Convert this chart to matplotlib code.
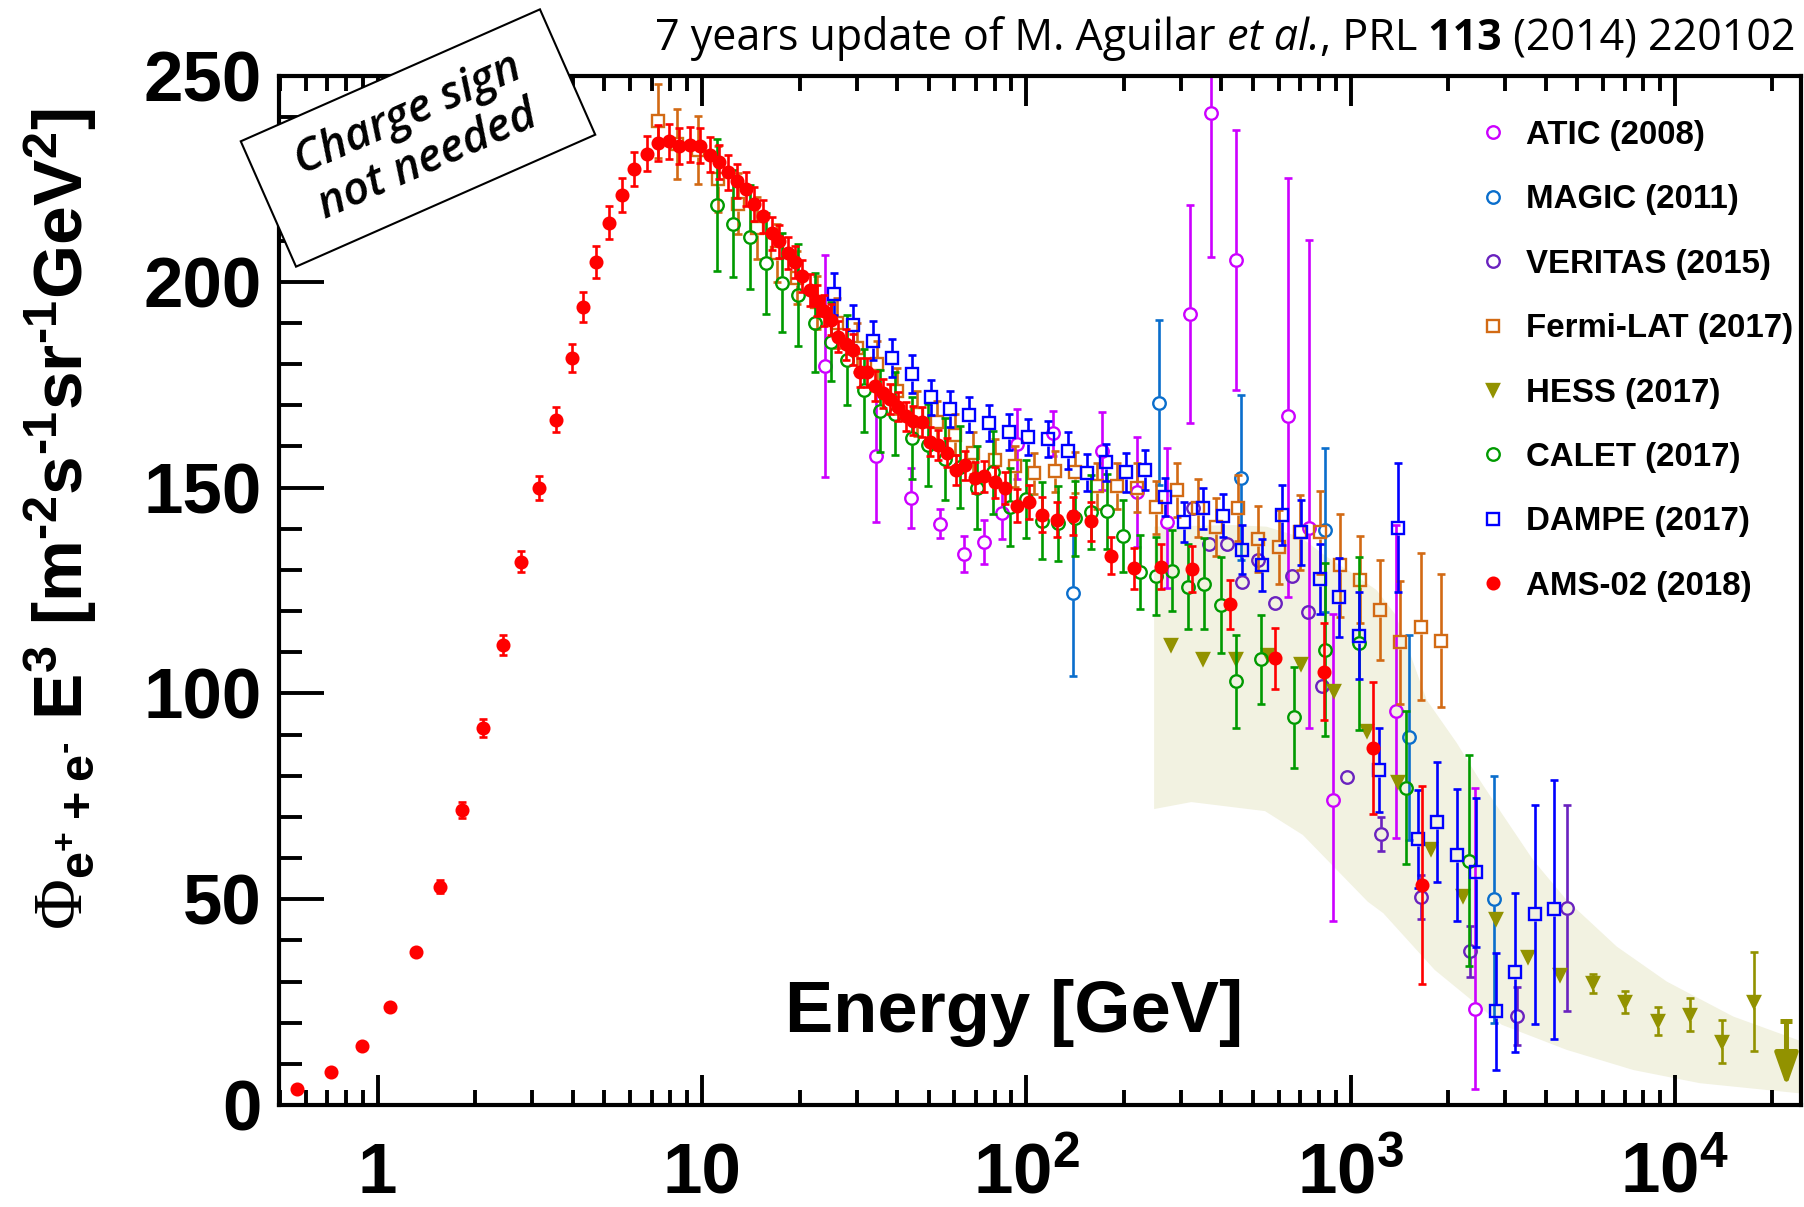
import numpy as np
import matplotlib
matplotlib.use("Agg")
import matplotlib.pyplot as plt
from matplotlib.patches import Rectangle
from matplotlib.transforms import Affine2D
from matplotlib.lines import Line2D
from matplotlib.ticker import LogLocator, NullFormatter, MultipleLocator

W, H = 1804, 1207

plt.rcParams['font.family'] = ['Liberation Sans', 'DejaVu Sans']
plt.rcParams['font.weight'] = 'bold'
plt.rcParams['mathtext.fontset'] = 'custom'
plt.rcParams['mathtext.sf'] = 'Liberation Sans:bold'
plt.rcParams['mathtext.rm'] = 'Liberation Sans:bold'
plt.rcParams['mathtext.tt'] = 'Liberation Serif:weight=normal'

# ---- data (E in GeV, E^3 flux) ----
ATIC_E = [24.0, 34.3, 44.1, 54.2, 64.2, 74.3, 84.1, 93.8, 120.6, 171, 220, 271, 321, 371, 443, 643, 746, 885, 1377, 2420]
ATIC_V = [179.5, 157.7, 147.4, 141.2, 133.9, 136.8, 143.8, 160.6, 163.2, 158.8, 149.0, 141.6, 192.2, 241.1, 205.3, 167.3, 140.1, 74.1, 95.8, 23.3]
ATIC_LO = [27, 16, 7.3, 3.5, 4.3, 5.3, 6.3, 8.5, 5.5, 9.5, 13.4, 16, 26.5, 35, 31.5, 44, 48.6, 29.4, 31, 19.5]
ATIC_HI = [27, 16, 7.3, 3.5, 4.3, 5.3, 6.3, 8.5, 5.5, 9.5, 13.4, 18, 26.5, 8.9, 31.5, 58, 70, 45.2, 45, 53.8]

MAGIC_E = [139, 257, 459, 834, 1518, 2768]
MAGIC_V = [124.3, 170.6, 152.4, 139.7, 89.3, 50.0]
MAGIC_ERR = [20, 20, 20, 20, 25, 30]

VER_E = [327, 367, 415, 464, 519, 585, 658, 741, 815, 973, 1240, 1645, 2335, 3266, 4637]
VER_V = [145.0, 136.3, 136.3, 127.0, 132.4, 122.0, 128.6, 119.8, 101.8, 79.8, 65.8, 50.6, 37.3, 21.6, 47.8]
VER_ERR = [0, 0, 0, 0, 0, 0, 0, 0, 0, 0, 4.1, 5.3, 6.1, 7.1, 25]

FER_E = [7.3, 8.4, 9.7, 11.2, 12.9, 14.8, 17.1, 19.7, 22.7, 26.1, 30.1, 34.7, 40.0, 46.0, 53.0, 60.3, 68.7, 80.0, 92.3, 106,
         123, 141.5, 165, 190, 219, 252, 292, 339, 386, 449, 519, 602, 698, 805, 927, 1069, 1233, 1422, 1645, 1900]
FER_V = [239.0, 233.5, 232.0, 225.0, 219.0, 213.0, 207.0, 201.0, 195.0, 190.0, 184.0, 180.0, 173.5, 168.0, 166.0, 162.8, 158.4, 156.7, 155.2, 153.5,
         154.0, 153.7, 150.4, 150.4, 150.0, 145.2, 149.4, 145.0, 140.5, 145.0, 137.5, 135.5, 139.1, 139.1, 131.1, 127.6, 120.3, 112.4, 116.2, 112.8]
FER_ERR = [9, 8.5, 8.3, 8, 7.5, 7.5, 7, 6.5, 6.5, 6, 6, 5.5, 5.5, 5.5, 5, 5, 5, 5, 5, 5,
           5, 5, 5.5, 5.5, 6, 6.5, 6.5, 7, 7, 8, 8, 9, 9, 10, 12.5, 10.6, 12.2, 15, 17.9, 16.2]

HESS_E = [279.5, 351, 443, 557, 703, 889, 1121, 1404, 1770, 2228, 2800, 3532, 4425, 5600, 7016, 8851, 11136, 14030, 17570]
HESS_V = [111.8, 108.3, 108.3, 109.4, 107.2, 100.7, 90.9, 78.4, 62.1, 50.8, 45.2, 35.9, 31.6, 29.6, 25.1, 20.4, 21.9, 15.4, 25.1]
HESS_ERR = [0, 0, 0, 0, 0, 0, 0, 0, 0, 0, 0, 0, 0, 2.3, 2.7, 3.5, 4.0, 5.3, 12.0]
HESS_UL_E = [22100]
HESS_UL_V = [20.3]

# HESS systematic band (upper and lower edges)
BAND_UP_E = [248, 435, 551, 700, 844, 1000, 1203, 1380, 1552, 1718, 2129, 2500, 2890, 3659, 4638, 6620, 9440, 15140, 24500]
BAND_UP_V = [140.5, 140.9, 140.5, 138.0, 133.2, 129.5, 125.1, 119.0, 108.1, 98.4, 87.9, 79.0, 71.5, 59.5, 49.8, 38.5, 30.0, 21.5, 15.5]
BAND_LO_E = [248, 323, 545, 713, 885, 1130, 1262, 1819, 2926, 4640, 7450, 11950, 24500]
BAND_LO_V = [71.9, 73.6, 71.4, 65.6, 58.0, 49.4, 46.6, 32.8, 19.5, 13.4, 8.5, 5.3, 2.8]

CAL_E = [11.1, 12.5, 14.1, 15.8, 17.7, 19.8, 22.3, 25.0, 28.0, 31.5, 35.3, 39.5, 44.4, 49.8, 56.0, 62.7, 70.3, 79.1, 88.9, 99.6,
         111.7, 125.6, 141.2, 158.3, 177.3, 199.3, 224, 251, 281, 315, 354, 398, 444, 530, 668, 837, 1060, 1479, 2323]
CAL_V = [218.7, 214.1, 210.8, 204.5, 199.8, 196.8, 190.1, 185.4, 181.0, 173.6, 168.6, 168.0, 162.0, 160.4, 157.0, 155.0, 150.0, 153.7, 145.2, 147.2,
         142.0, 141.3, 142.6, 144.0, 144.2, 138.3, 129.4, 128.5, 129.8, 125.9, 126.7, 121.5, 102.9, 108.3, 94.2, 110.6, 112.2, 77.1, 59.4]
CAL_ERR = [16, 13, 12.6, 12.3, 12, 12.4, 12, 9.6, 11, 10, 10, 10, 10, 10, 10, 10, 10, 10, 9.5, 9.5,
           9.3, 9.2, 9.1, 9, 9, 8.8, 9, 9.4, 9.9, 10.3, 11, 11.7, 11.3, 10.8, 12.3, 21, 21, 18.6, 25.6]

DAM_E = [25.6, 29.3, 33.6, 38.5, 44.3, 50.7, 58.2, 66.7, 76.7, 88.3, 101.2, 116.6, 134.1, 153.8, 176, 203, 232, 267, 306, 351,
         403, 464, 532, 613, 702, 805, 922, 1064, 1225, 1403, 1610, 1850, 2125, 2437, 2802, 3214, 3697, 4250]
DAM_V = [197.0, 189.5, 185.7, 181.5, 177.6, 171.9, 169.1, 167.7, 165.7, 163.5, 162.3, 161.8, 158.9, 153.6, 156.1, 153.7, 154.3, 147.7, 141.7, 145.0,
         143.2, 134.9, 131.2, 143.4, 139.1, 127.8, 123.3, 114.0, 81.3, 140.3, 64.6, 68.8, 60.7, 56.5, 22.8, 32.2, 46.3, 47.5]
DAM_ERR = [5.1, 4.9, 4.8, 4.6, 4.5, 4.3, 4.3, 4.2, 4.3, 4.3, 4.3, 4.4, 4.5, 4.5, 4.6, 4.7, 4.8, 4.6, 4.9, 5.0,
           5.3, 6.0, 6.3, 7.3, 8.0, 8.6, 9.6, 10.6, 10.2, 15.7, 12.0, 14.6, 16.0, 18.0, 14.2, 19.3, 26.5, 31.5]

AMS_E = [0.563, 0.72, 0.897, 1.09, 1.315, 1.56, 1.82, 2.11, 2.43, 2.77, 3.15, 3.54, 3.97, 4.30, 4.71, 5.18, 5.67, 6.18, 6.75, 7.31,
         7.89, 8.51, 9.19, 9.86, 10.59, 11.3, 12.05, 12.84, 13.67, 14.5, 15.42, 16.4, 17.3, 18.4, 19.4, 20.3, 21.5, 22.7, 23.8, 25.0,
         26.3, 27.8, 29.3, 30.7, 32.2, 34.2, 36.1, 38.0, 40.1, 42.5, 44.8, 47.6, 50.5, 53.5, 57.1, 60.7, 64.7, 69.3, 74.1, 80.0,
         86.0, 93.4, 101.9, 111.5, 124.1, 139.1, 158, 182, 215, 260, 325, 425, 584, 827, 1175, 1656]
AMS_V = [4.0, 8.0, 14.4, 23.9, 37.1, 53.0, 71.7, 91.6, 111.7, 132.0, 150.0, 166.5, 181.6, 193.9, 204.8, 214.3, 221.1, 227.4, 231.1, 233.7,
         234.1, 233.0, 233.3, 233.1, 230.9, 229.1, 226.6, 224.5, 222.5, 218.9, 215.9, 211.8, 209.8, 207.0, 204.9, 201.5, 198.0, 195.4, 193.0, 190.8,
         186.7, 184.8, 183.5, 178.0, 178.0, 174.7, 172.9, 171.6, 169.7, 167.3, 166.3, 165.9, 161.2, 160.4, 158.5, 154.3, 155.4, 152.4, 152.7, 151.3,
         149.9, 145.6, 146.5, 143.4, 142.2, 143.1, 141.8, 133.5, 130.4, 130.8, 130.2, 121.6, 108.5, 105.3, 86.7, 53.5]
AMS_ERR = [0.4, 0.5, 0.6, 0.8, 1.0, 1.6, 1.9, 2.3, 2.4, 2.6, 2.9, 3.1, 3.4, 3.6, 3.8, 4.0, 4.1, 4.2, 4.3, 4.3,
           4.3, 4.3, 4.3, 4.3, 4.3, 4.2, 4.2, 4.2, 4.1, 4.1, 4.0, 4.0, 4.0, 3.9, 3.9, 3.9, 3.8, 3.8, 3.8, 3.7,
           3.7, 3.7, 3.7, 3.6, 3.6, 3.6, 3.6, 3.6, 3.6, 3.6, 3.6, 3.6, 3.6, 3.6, 3.6, 3.6, 3.6, 3.7, 3.7, 3.8,
           3.9, 4.0, 4.1, 4.2, 4.3, 4.5, 4.7, 4.5, 5.0, 5.5, 5.6, 6.0, 7.4, 11.7, 16.0, 24.0]

LABELS = ['ATIC (2008)', 'MAGIC (2011)', 'VERITAS (2015)', 'Fermi-LAT (2017)',
          'HESS (2017)', 'CALET (2017)', 'DAMPE (2017)', 'AMS-02 (2018)']

# title pieces: (text, style, weight)
TITLE_PARTS = [('7 years update of M. Aguilar', 'normal', 'normal'),
               (' et al.', 'italic', 'normal'),
               (', PRL', 'normal', 'normal'),
               (' 113', 'normal', 'bold'),
               (' (2014) 220102', 'normal', 'normal')]

C_ATIC = '#cc00ff'
C_MAGIC = '#0a6ecc'
C_VER = '#6a22bf'
C_FER = '#d26a14'
C_HESS = '#929200'
C_CAL = '#009a00'
C_DAM = '#0000ff'
C_AMS = '#ff0000'
C_BAND = '#f2f2e1'

MS_OPEN = 9.0
MS_AMS = 8.4
MS_TRI = 8.4

fig = plt.figure(figsize=(W / 100, H / 100), dpi=100)
ax = fig.add_axes([278.6 / W, 1 - 1105 / H, (1801 - 278.6) / W, (1105 - 76) / H])
ax.set_xscale('log')
ax.set_xlim(0.495, 24500)
ax.set_ylim(0, 250)
px_per_unit = (1105 - 76) / 250.0


def series(E, V, lo, hi, color, marker, ms, filled, z, gap_px=7.0, lw=1.9, cap=5.3):
    E = np.asarray(E, float)
    V = np.asarray(V, float)
    lo = np.asarray(lo, float)
    hi = np.asarray(hi, float)
    gap = gap_px / px_per_unit
    # ROOT style: bars stop at the marker edge
    m = lo > gap
    ax.vlines(E[m], V[m] - lo[m], V[m] - gap, color=color, lw=lw, zorder=z)
    ax.plot(E[m], V[m] - lo[m], ls='none', marker='_', ms=cap, mew=lw, color=color, zorder=z)
    m = hi > gap
    ax.vlines(E[m], V[m] + gap, V[m] + hi[m], color=color, lw=lw, zorder=z)
    ax.plot(E[m], V[m] + hi[m], ls='none', marker='_', ms=cap, mew=lw, color=color, zorder=z)
    ax.plot(E, V, ls='none', marker=marker, ms=ms, mec=color,
            mfc=color if filled else 'none', mew=1.7, zorder=z + 0.5)


# HESS band
band_x = BAND_UP_E + BAND_LO_E[::-1]
band_y = BAND_UP_V + BAND_LO_V[::-1]
ax.fill(band_x, band_y, color=C_BAND, lw=0, zorder=1)

series(ATIC_E, ATIC_V, ATIC_LO, ATIC_HI, C_ATIC, 'o', MS_OPEN, False, 2)
series(MAGIC_E, MAGIC_V, MAGIC_ERR, MAGIC_ERR, C_MAGIC, 'o', MS_OPEN, False, 3)
series(VER_E, VER_V, VER_ERR, VER_ERR, C_VER, 'o', MS_OPEN, False, 4)
series(FER_E, FER_V, FER_ERR, FER_ERR, C_FER, 's', MS_OPEN, False, 5)
series(HESS_E, HESS_V, HESS_ERR, HESS_ERR, C_HESS, 'v', MS_TRI, True, 6, gap_px=5.5)
series(CAL_E, CAL_V, CAL_ERR, CAL_ERR, C_CAL, 'o', MS_OPEN, False, 7)
series(DAM_E, DAM_V, DAM_ERR, DAM_ERR, C_DAM, 's', MS_OPEN, False, 8)
series(AMS_E, AMS_V, AMS_ERR, AMS_ERR, C_AMS, 'o', MS_AMS, True, 9, gap_px=6.0)

# HESS upper limit arrow
arrow_len = 65 / px_per_unit
for e, v in zip(HESS_UL_E, HESS_UL_V):
    ax.annotate('', xy=(e, v - arrow_len), xytext=(e, v),
                arrowprops=dict(arrowstyle='-|>,head_length=0.9,head_width=0.32', lw=3.6,
                                color=C_HESS, shrinkA=0, shrinkB=0, mutation_scale=22),
                zorder=6)
    ax.plot([e], [v], ls='none', marker='_', ms=8, mew=3.6, color=C_HESS, zorder=6)

# axes styling
for s in ax.spines.values():
    s.set_linewidth(3)
ax.xaxis.set_minor_locator(LogLocator(base=10, subs=np.arange(2, 10), numticks=30))
ax.xaxis.set_minor_formatter(NullFormatter())
ax.yaxis.set_major_locator(MultipleLocator(50))
ax.yaxis.set_minor_locator(MultipleLocator(10))
ax.tick_params(axis='x', which='major', direction='in', length=21.6, width=2.8,
               top=True, bottom=True, pad=63.5, labelsize=51)
ax.tick_params(axis='x', which='minor', direction='in', length=10.8, width=2.8, top=True, bottom=True)
ax.tick_params(axis='y', which='major', direction='in', length=32.4, width=2.8,
               left=True, right=False, pad=12, labelsize=51)
ax.tick_params(axis='y', which='minor', direction='in', length=16.6, width=2.8, left=True, right=False)
ax.set_xticks([1, 10, 100, 1000, 10000],
              ['1', '10', r'$\mathsf{10^{2}}$', r'$\mathsf{10^{3}}$', r'$\mathsf{10^{4}}$'])
for lab in ax.get_xticklabels():
    lab.set_verticalalignment('baseline')

# legend
handles = [
    Line2D([], [], ls='none', marker='o', ms=MS_OPEN, mec=C_ATIC, mfc='none', mew=1.7),
    Line2D([], [], ls='none', marker='o', ms=MS_OPEN, mec=C_MAGIC, mfc='none', mew=1.7),
    Line2D([], [], ls='none', marker='o', ms=MS_OPEN, mec=C_VER, mfc='none', mew=1.7),
    Line2D([], [], ls='none', marker='s', ms=MS_OPEN, mec=C_FER, mfc='none', mew=1.7),
    Line2D([], [], ls='none', marker='v', ms=MS_TRI, mec=C_HESS, mfc=C_HESS, mew=1.7),
    Line2D([], [], ls='none', marker='o', ms=MS_OPEN, mec=C_CAL, mfc='none', mew=1.7),
    Line2D([], [], ls='none', marker='s', ms=MS_OPEN, mec=C_DAM, mfc='none', mew=1.7),
    Line2D([], [], ls='none', marker='o', ms=MS_AMS, mec=C_AMS, mfc=C_AMS, mew=1.7),
]
ax.legend(handles, LABELS, loc='upper left', bbox_to_anchor=(1476.3 / W, 1 - 120 / H),
          bbox_transform=fig.transFigure, frameon=False,
          prop=dict(family='Liberation Sans', weight='bold', size=23.8),
          handlelength=1.0, handletextpad=0.5, labelspacing=1.01, borderpad=0, borderaxespad=0)

# title line, built from pieces so that italic / bold parts sit in the run of text
renderer = fig.canvas.get_renderer()
pieces = []
for txt, st, wt in TITLE_PARTS:
    t = fig.text(0, 1 - 50 / H, txt, ha='left', va='baseline', family='Open Sans',
                 style=st, fontweight=wt, fontsize=31)
    pieces.append((t, t.get_window_extent(renderer).width))
x = 1795 - sum(w for _, w in pieces)
for t, w in pieces:
    t.set_x(x / W)
    x += w

fig.text(1014 / W, 1 - 1032 / H, 'Energy [GeV]', ha='center', va='baseline', fontsize=52, fontweight='bold')
fig.text(60.5 / W, 1 - 109 / H,
         r'$\mathtt{\Phi}_{\mathsf{e^{+}+e^{\text{-}}}}$ $\mathsf{E^{3}}$ '
         r'$\mathsf{[m^{\text{-}2}s^{\text{-}1}sr^{\text{-}1}GeV^{2}]}$',
         rotation=90, ha='center', va='top', fontsize=50, fontweight='bold')

# "Charge sign not needed" box
cx, cy = 418, H - 138
box_tr = Affine2D().rotate_deg_around(cx, cy, 23.8).scale(1 / W, 1 / H) + fig.transFigure
fig.add_artist(Rectangle((cx - 163.5, cy - 68.5), 327, 137, facecolor='white', edgecolor='black',
                         lw=1.5, transform=box_tr, zorder=10))
fig.text(cx / W, cy / H, 'Charge sign\nnot needed', rotation=23.8, rotation_mode='anchor',
         ha='center', va='center', multialignment='center', family='Open Sans',
         style='italic', fontweight='semibold', fontsize=33, linespacing=1.15, zorder=11)

fig.savefig('out.png', dpi=100)
